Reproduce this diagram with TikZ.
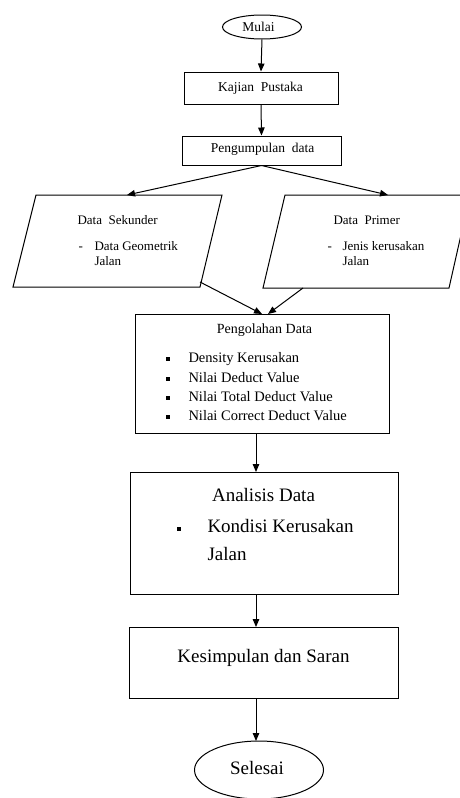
\documentclass[tikz,border=0pt]{standalone}
\usepackage{fontspec}
\setmainfont{Liberation Serif}
\usetikzlibrary{arrows.meta,shapes.geometric}
\begin{document}
\begin{tikzpicture}[x=1pt,y=-1pt,
  line width=1pt,
  arr/.style={-{Triangle[length=8pt,width=6.5pt]}},
  smalltxt/.style={font=\fontsize{13.5}{16}\selectfont, inner sep=0pt},
  paratxt/.style={font=\fontsize{13}{16}\selectfont, inner sep=0pt},
  proctxt/.style={font=\fontsize{14.5}{17}\selectfont, inner sep=0pt},
  bigtxt/.style={font=\fontsize{19}{23}\selectfont, inner sep=0pt},
  boxshape/.style={draw, rectangle, inner sep=0pt},
  term/.style={draw, ellipse, inner sep=0pt},
  bul/.style={fill, rectangle, inner sep=0pt, minimum size=4pt}
]
\useasboundingbox (0,0) rectangle (460,798);
\fill[white] (0,0) rectangle (460,798);

% Mulai
\node[term, minimum width=79pt, minimum height=24pt] (mulai) at (262,27) {};
\node[smalltxt] (tmulai) at (258.5,27) {Mulai};

% Kajian Pustaka
\node[boxshape, minimum width=154pt, minimum height=32pt] (kajian) at (261,88) {};
\node[smalltxt] (tkajian) at (260.5,88) {Kajian\ \ Pustaka};

% Pengumpulan data
\node[boxshape, minimum width=159pt, minimum height=29pt] (kumpul) at (261.5,150.5) {};
\node[smalltxt] (tkumpul) at (262.5,149) {Pengumpulan\ \ data};

% Data Sekunder parallelogram
\coordinate (sekTop) at (127,195);
\draw (36,195) -- (222,195) -- (200,287) -- (13,287) -- cycle;
\node[paratxt, anchor=mid west] (tsek) at (77,222) {Data\ \ Sekunder};
\node[paratxt, anchor=mid west] (dsek) at (78,248) {-};
\node[paratxt, anchor=mid west] (tsek1) at (94,248) {Data Geometrik};
\node[paratxt, anchor=mid west] (tsek2) at (94,263) {Jalan};
\coordinate (sekBot) at (200,282);

% Data Primer parallelogram
\coordinate (priTop) at (388,195);
\draw (285,195) -- (470,195) -- (449,288) -- (263,288) -- cycle;
\node[paratxt, anchor=mid west] (tpri) at (333,222) {Data\ \ Primer};
\node[paratxt, anchor=mid west] (dpri) at (327,248) {-};
\node[paratxt, anchor=mid west] (tpri1) at (342,248) {Jenis kerusakan};
\node[paratxt, anchor=mid west] (tpri2) at (342,263) {Jalan};
\coordinate (priBot) at (303,288);

% Pengolahan Data
\node[boxshape, minimum width=254pt, minimum height=119pt] (olah) at (262,373.5) {};
\node[proctxt, font=\fontsize{14}{17}\selectfont] (tolah) at (264.5,330) {Pengolahan Data};
\node[bul] (b1) at (168,358.5) {};
\node[bul] (b2) at (168,378.5) {};
\node[bul] (b3) at (168,397.5) {};
\node[bul] (b4) at (168,416.5) {};
\node[proctxt, anchor=mid west] (o1) at (188,360) {Density Kerusakan};
\node[proctxt, anchor=mid west] (o2) at (188,380) {Nilai Deduct Value};
\node[proctxt, anchor=mid west] (o3) at (188,399) {Nilai Total Deduct Value};
\node[proctxt, anchor=mid west] (o4) at (188,418) {Nilai Correct Deduct Value};
\coordinate (olahInL) at (262,314);
\coordinate (olahInR) at (268,314);
\coordinate (olahOut) at (256,433);

% Analisis Data
\node[boxshape, minimum width=268pt, minimum height=122pt] (anal) at (264,533) {};
\node[bigtxt] (tanal) at (263.5,495) {Analisis Data};
\node[bul] (b5) at (179,528.5) {};
\node[bigtxt, anchor=mid west] (a1) at (207,530) {Kondisi Kerusakan};
\node[bigtxt, anchor=mid west] (a2) at (207,558) {Jalan};
\coordinate (analIn) at (256,472);
\coordinate (analOut) at (256,594);

% Kesimpulan dan Saran
\node[boxshape, minimum width=269pt, minimum height=71pt] (simpul) at (263.5,662.5) {};
\node[bigtxt] (tsimpul) at (263.5,658) {Kesimpulan dan Saran};
\coordinate (simpulIn) at (256,627);
\coordinate (simpulOut) at (256,698);

% Selesai
\node[term, minimum width=129pt, minimum height=58pt] (selesai) at (259,770) {};
\node[bigtxt] (tselesai) at (257,768) {Selesai};
\coordinate (selesaiIn) at (256,741);

% connectors
\draw[arr] (mulai.south) -- (kajian.north);
\draw[arr] (kajian.south) -- (kumpul.north);
\draw[arr] (kumpul.south) -- (sekTop);
\draw[arr] (kumpul.south) -- (priTop);
\draw[arr] (sekBot) -- (olahInL);
\draw[arr] (priBot) -- (olahInR);
\draw[arr] (olahOut) -- (analIn);
\draw[arr] (analOut) -- (simpulIn);
\draw[arr] (simpulOut) -- (selesaiIn);
\end{tikzpicture}
\end{document}
